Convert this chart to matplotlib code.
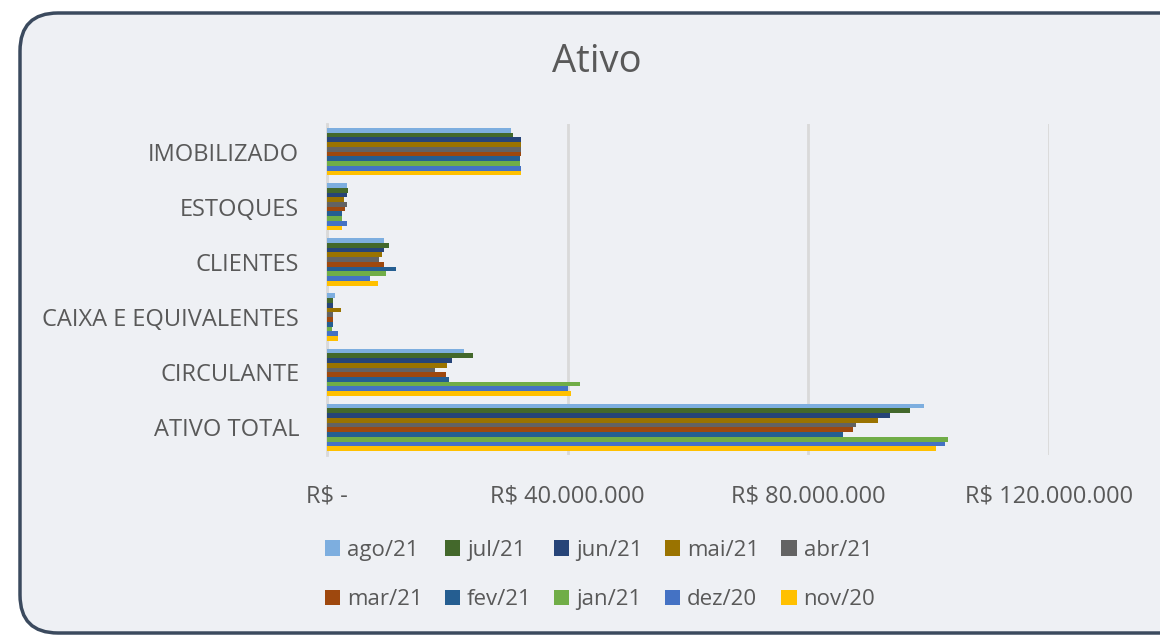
import matplotlib
matplotlib.use("Agg")
import matplotlib.pyplot as plt
from matplotlib.patches import FancyBboxPatch
import numpy as np

categories = ["IMOBILIZADO", "ESTOQUES", "CLIENTES", "CAIXA E EQUIVALENTES", "CIRCULANTE", "ATIVO TOTAL"]
series_names = ["ago/21", "jul/21", "jun/21", "mai/21", "abr/21", "mar/21", "fev/21", "jan/21", "dez/20", "nov/20"]
colors = ["#7DAEDF", "#43682B", "#264478", "#9A7300", "#636363", "#9E480E", "#255E91", "#70AD47", "#4472C4", "#FFC000"]

# values in R$ millions, per series across categories
ago21 = [30.6, 3.3, 9.4, 1.3, 22.8, 99.3]
jul21 = [30.9, 3.5, 10.3, 1.05, 24.3, 96.9]
jun21 = [32.3, 3.3, 9.5, 1.05, 20.7, 93.6]
mai21 = [32.3, 2.8, 9.1, 2.3, 20.0, 91.6]
abr21 = [32.3, 3.3, 8.6, 1.0, 18.0, 88.0]
mar21 = [32.3, 3.0, 9.4, 1.0, 19.7, 87.5]
fev21 = [32.0, 2.5, 11.5, 1.0, 20.2, 85.7]
jan21 = [32.0, 2.5, 9.8, 0.8, 42.0, 103.2]
dez20 = [32.3, 3.3, 7.2, 1.8, 40.0, 102.7]
nov20 = [32.3, 2.5, 8.4, 1.8, 40.5, 101.3]
series_values = [ago21, jul21, jun21, mai21, abr21, mar21, fev21, jan21, dez20, nov20]

xticks = [0, 40e6, 80e6, 120e6]
xtick_labels = ["R$ -", "R$ 40.000.000", "R$ 80.000.000", "R$ 120.000.000"]

FONT = ["Open Sans", "DejaVu Sans"]
plt.rcParams["font.family"] = FONT
TXT = "#595959"
BG = "#EEF0F4"

fig = plt.figure(figsize=(11.6, 6.37), dpi=100)
fig.patch.set_facecolor("white")

bgax = fig.add_axes([0, 0, 1, 1], zorder=-10)
bgax.set_axis_off()
bgax.set_xlim(0, 1160)
bgax.set_ylim(637, 0)
box = FancyBboxPatch((20, 13), 1300, 620,
                     boxstyle="round,pad=0,rounding_size=38",
                     facecolor=BG, edgecolor="#3B4A5E", linewidth=2.5)
bgax.add_patch(box)

ax = fig.add_axes([327 / 1160, 1 - 455 / 637, (1049 - 327) / 1160, (455 - 124) / 637])
ax.set_facecolor("none")

n = len(series_names)
group = 0.86
h = group / n
y = np.arange(len(categories))
for i, (name, vals, c) in enumerate(zip(series_names, series_values, colors)):
    off = -group / 2 + h * (i + 0.5)
    ax.barh(y + off, np.array(vals) * 1e6, height=h, color=c, label=name, zorder=3)

ax.set_ylim(len(categories) - 0.5, -0.5)
ax.set_xlim(0, 120e6)
ax.set_xticks(xticks)
ax.set_xticklabels(xtick_labels)
ax.set_yticks(y)
ax.set_yticklabels(categories)
ax.tick_params(axis="both", length=0, labelsize=17, colors=TXT)
ax.tick_params(axis="y", pad=20)
ax.tick_params(axis="x", pad=21)
ax.grid(axis="x", color="#D9D9D9", linewidth=2, zorder=0)
for s in ["top", "right", "bottom"]:
    ax.spines[s].set_visible(False)
ax.spines["left"].set_color("#D9D9D9")
ax.spines["left"].set_linewidth(2)

fig.text(597 / 1160, 1 - 62 / 637, "Ativo", ha="center", va="center", fontsize=27.5, color=TXT)

handles, labels = ax.get_legend_handles_labels()
order = [0, 5, 1, 6, 2, 7, 3, 8, 4, 9]
leg = fig.legend([handles[k] for k in order], [labels[k] for k in order],
                 loc="center", bbox_to_anchor=(600 / 1160, 1 - 575 / 637),
                 ncol=5, frameon=False, fontsize=16, labelcolor=TXT,
                 handlelength=0.7, handleheight=0.7, handletextpad=0.3,
                 columnspacing=1.0, labelspacing=1.3)

fig.savefig("out.png", dpi=100, facecolor="white")
